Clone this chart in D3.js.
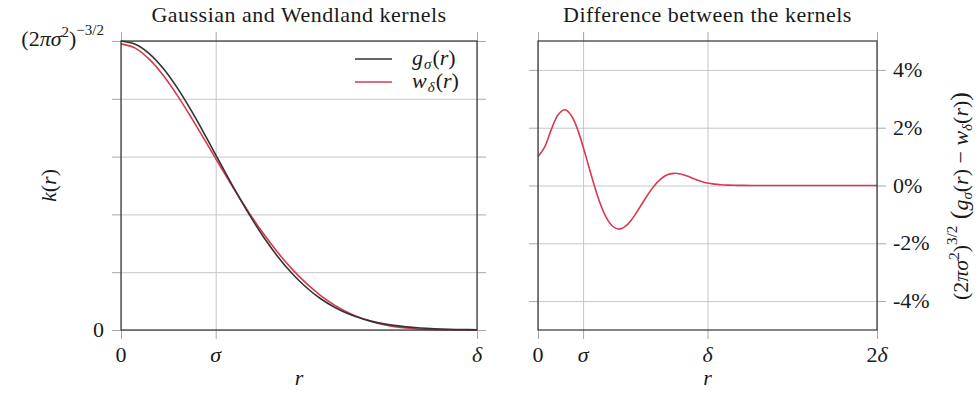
<!DOCTYPE html>
<html>
<head>
<meta charset="utf-8">
<script src="https://cdn.jsdelivr.net/npm/d3@7"></script>
<style>
  html, body { margin: 0; padding: 0; background: #fff; }
  svg { display: block; }
  text { font-family: "Liberation Serif", "DejaVu Serif", serif; fill: #1a1a1a; }
  .it { font-style: italic; }
</style>
</head>
<body>
<svg id="chart" width="978" height="393"></svg>
<script>
// Radius samples (in units of the Wendland support δ) and normalised kernel values k(r)/(2πσ²)^{-3/2}
const radius = [0, 0.04, 0.08, 0.12, 0.16, 0.20, 0.24, 0.28, 0.32, 0.36, 0.40, 0.44, 0.48,
                0.52, 0.56, 0.60, 0.64, 0.68, 0.72, 0.76, 0.80, 0.84, 0.88, 0.92, 0.96, 1.00];
const gaussian = [1.0000, 0.9888, 0.9558, 0.9032, 0.8345, 0.7538, 0.6656, 0.5746, 0.4850,
                  0.4002, 0.3228, 0.2546, 0.1963, 0.1480, 0.1090, 0.0786, 0.0553, 0.0381,
                  0.0256, 0.0169, 0.0109, 0.0068, 0.0042, 0.0025, 0.0015, 0.0009];
const wendland = [0.9900, 0.9754, 0.9362, 0.8787, 0.8083, 0.7299, 0.6474, 0.5640, 0.4826,
                  0.4053, 0.3336, 0.2687, 0.2114, 0.1619, 0.1202, 0.0862, 0.0592, 0.0386,
                  0.0236, 0.0133, 0.0067, 0.0028, 0.0009, 0.0002, 0.0000, 0.0000];

// Difference of the kernels in percent, over 0 … 2δ
const diffRadius = [0, 0.04, 0.08, 0.12, 0.16, 0.20, 0.24, 0.28, 0.32, 0.36, 0.40, 0.44, 0.48,
                    0.52, 0.56, 0.60, 0.64, 0.68, 0.72, 0.76, 0.80, 0.84, 0.88, 0.92, 0.96, 1.00,
                    1.04, 1.08, 1.12, 1.16, 1.20, 1.30, 1.40, 1.60, 1.80, 2.00];
const difference = [1.00, 1.34, 1.96, 2.46, 2.62, 2.39, 1.83, 1.06, 0.24, -0.51, -1.08, -1.41,
                    -1.51, -1.39, -1.12, -0.76, -0.39, -0.05, 0.20, 0.36, 0.42, 0.40, 0.33,
                    0.23, 0.15, 0.085, 0.048, 0.026, 0.014, 0.007, 0.004, 0.001, 0, 0, 0, 0];

// Tick positions and labels
const sigma = 0.266;
const leftXTicks = [0, sigma, 1];
const leftXTickLabels = ["0", "σ", "δ"];
const leftYTicks = [0, 0.2, 0.4, 0.6, 0.8, 1];
const rightXTicks = [0, sigma, 1, 2];
const rightXTickLabels = ["0", "σ", "δ", "2δ"];
const rightYTicks = [-4, -2, 0, 2, 4];
const rightYTickLabels = ["-4%", "-2%", "0%", "2%", "4%"];

const colors = { gauss: "#333333", wend: "#d63a50", grid: "#c6c6c6", tick: "#a8a8a8", frame: "#333333" };

const svg = d3.select("#chart");

const L = { x0: 121, x1: 477, y0: 41, y1: 330 };
const R = { x0: 538, x1: 877, y0: 41, y1: 330 };

const xL = d3.scaleLinear().domain([0, 1]).range([L.x0, L.x1]);
const yL = d3.scaleLinear().domain([0, 1]).range([L.y1, L.y0]);
const xR = d3.scaleLinear().domain([0, 2]).range([R.x0, R.x1]);
const yR = d3.scaleLinear().domain([-5, 5]).range([R.y1, R.y0]);

function panel(box, x, y, xTicks, yTicks) {
  const g = svg.append("g");
  const w = box.x1 - box.x0, h = box.y1 - box.y0;
  const tk = 9;
  // grid lines
  g.append("g").attr("transform", `translate(0,${box.y1})`)
    .call(d3.axisBottom(x).tickValues(xTicks).tickSize(-h).tickFormat(""))
    .call(s => s.select(".domain").remove())
    .call(s => s.selectAll("line").attr("stroke", colors.grid));
  g.append("g").attr("transform", `translate(${box.x0},0)`)
    .call(d3.axisLeft(y).tickValues(yTicks).tickSize(-w).tickFormat(""))
    .call(s => s.select(".domain").remove())
    .call(s => s.selectAll("line").attr("stroke", colors.grid));
  // outward tick marks on all four sides
  const sides = [
    [d3.axisBottom(x).tickValues(xTicks), `translate(0,${box.y1})`],
    [d3.axisTop(x).tickValues(xTicks), `translate(0,${box.y0})`],
    [d3.axisLeft(y).tickValues(yTicks), `translate(${box.x0},0)`],
    [d3.axisRight(y).tickValues(yTicks), `translate(${box.x1},0)`]
  ];
  sides.forEach(([ax, tr]) => {
    g.append("g").attr("transform", tr)
      .call(ax.tickSize(tk).tickFormat(""))
      .call(s => s.select(".domain").remove())
      .call(s => s.selectAll("line").attr("stroke", colors.tick));
  });
  return g;
}

function frame(box) {
  svg.append("rect")
    .attr("x", box.x0).attr("y", box.y0)
    .attr("width", box.x1 - box.x0).attr("height", box.y1 - box.y0)
    .attr("fill", "none").attr("stroke", colors.frame).attr("stroke-width", 1.2);
}

// ---- Left panel: the two kernels ----
panel(L, xL, yL, leftXTicks, leftYTicks);

const lineL = (vals) => d3.line()
  .x((d, i) => xL(radius[i])).y(d => yL(d))
  .curve(d3.curveCatmullRom)(vals);

svg.append("path").attr("d", lineL(wendland))
  .attr("fill", "none").attr("stroke", colors.wend).attr("stroke-width", 1.6);
svg.append("path").attr("d", lineL(gaussian))
  .attr("fill", "none").attr("stroke", colors.gauss).attr("stroke-width", 1.6);
frame(L);

// ---- Right panel: difference ----
panel(R, xR, yR, rightXTicks, rightYTicks);
svg.append("path")
  .attr("d", d3.line().x((d, i) => xR(diffRadius[i])).y(d => yR(d)).curve(d3.curveCatmullRom)(difference))
  .attr("fill", "none").attr("stroke", colors.wend).attr("stroke-width", 1.6);
frame(R);

// ---- Text ----
const FS = 22, SS = 15;
function title(txt, box) {
  svg.append("text").attr("x", (box.x0 + box.x1) / 2).attr("y", 22)
    .attr("text-anchor", "middle").attr("font-size", FS)
    .attr("letter-spacing", 0.5).text(txt);
}
title("Gaussian and Wendland kernels", L);
title("Difference between the kernels", R);

function xTickLabels(x, ticks, labels) {
  ticks.forEach((t, i) => {
    const el = svg.append("text").attr("x", x(t)).attr("y", 362)
      .attr("text-anchor", "middle").attr("font-size", FS);
    const lab = labels[i];
    for (const ch of lab) {
      el.append("tspan").attr("class", /[σδ]/.test(ch) ? "it" : null).text(ch);
    }
  });
}
xTickLabels(xL, leftXTicks, leftXTickLabels);
xTickLabels(xR, rightXTicks, rightXTickLabels);

// axis titles r
[[xL, L], [xR, R]].forEach(([x, box]) => {
  svg.append("text").attr("class", "it").attr("x", (box.x0 + box.x1) / 2).attr("y", 385)
    .attr("text-anchor", "middle").attr("font-size", FS).text("r");
});

// left y tick labels
svg.append("text").attr("x", 104).attr("y", yL(0) + 7).attr("text-anchor", "end")
  .attr("font-size", FS).text("0");
{
  const t = svg.append("text").attr("x", 104).attr("y", yL(1) + 5).attr("text-anchor", "end")
    .attr("font-size", FS);
  t.append("tspan").text("(2");
  t.append("tspan").attr("class", "it").text("πσ");
  t.append("tspan").attr("font-size", SS).attr("dy", -9).text("2");
  t.append("tspan").attr("dy", 9).text(")");
  t.append("tspan").attr("font-size", SS).attr("dy", -11).text("−3/2");
}

// left y label k(r)
{
  const t = svg.append("text").attr("transform", `translate(56,${(L.y0 + L.y1) / 2}) rotate(-90)`)
    .attr("text-anchor", "middle").attr("font-size", FS);
  t.append("tspan").attr("class", "it").text("k");
  t.append("tspan").text("(");
  t.append("tspan").attr("class", "it").text("r");
  t.append("tspan").text(")");
}

// right y tick labels
rightYTicks.forEach((v, i) => {
  svg.append("text").attr("x", 893).attr("y", yR(v) + 7)
    .attr("font-size", FS).text(rightYTickLabels[i]);
});

// right y label
{
  const t = svg.append("text").attr("transform", `translate(968,196) rotate(-90)`)
    .attr("text-anchor", "middle").attr("font-size", FS);
  t.append("tspan").text("(2");
  t.append("tspan").attr("class", "it").text("πσ");
  t.append("tspan").attr("font-size", SS).attr("dy", -9).text("2");
  t.append("tspan").attr("dy", 9).text(")");
  t.append("tspan").attr("font-size", SS).attr("dy", -11).text("3/2");
  t.append("tspan").attr("dy", 11).attr("font-size", 26).text(" (");
  t.append("tspan").attr("class", "it").attr("font-size", FS).text("g");
  t.append("tspan").attr("class", "it").attr("font-size", SS).attr("dy", 4).text("σ");
  t.append("tspan").attr("dy", -4).attr("font-size", FS).text("(");
  t.append("tspan").attr("class", "it").text("r");
  t.append("tspan").text(") − ");
  t.append("tspan").attr("class", "it").text("w");
  t.append("tspan").attr("class", "it").attr("font-size", SS).attr("dy", 4).text("δ");
  t.append("tspan").attr("dy", -4).attr("font-size", FS).text("(");
  t.append("tspan").attr("class", "it").text("r");
  t.append("tspan").text(")");
  t.append("tspan").attr("font-size", 26).text(")");
}

// legend
const legend = [
  { color: colors.gauss, name: "g", sub: "σ", y: 59 },
  { color: colors.wend, name: "w", sub: "δ", y: 82 }
];
legend.forEach(d => {
  svg.append("line").attr("x1", 355).attr("x2", 392).attr("y1", d.y).attr("y2", d.y)
    .attr("stroke", d.color).attr("stroke-width", 1.6);
  const t = svg.append("text").attr("x", 412).attr("y", d.y + 6).attr("font-size", FS);
  t.append("tspan").attr("class", "it").text(d.name);
  t.append("tspan").attr("class", "it").attr("font-size", SS).attr("dy", 4).attr("dx", 1).text(d.sub);
  t.append("tspan").attr("dy", -4).attr("dx", 1).text("(");
  t.append("tspan").attr("class", "it").text("r");
  t.append("tspan").text(")");
});
</script>
</body>
</html>
